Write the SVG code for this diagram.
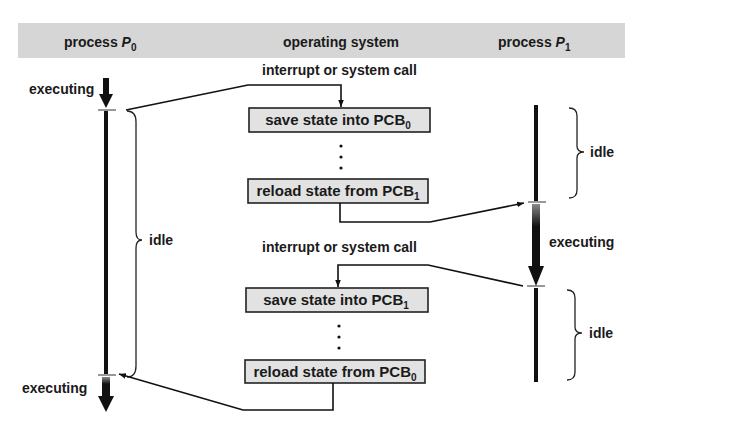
<svg xmlns="http://www.w3.org/2000/svg" width="742" height="431" viewBox="0 0 742 431">
<style>
text{font-family:"Liberation Sans",Arial,sans-serif;font-size:14px;font-weight:bold;fill:#1a1a1a}
.bt{font-size:15px;text-anchor:middle}
.box{fill:#e2e2e2;stroke:#222;stroke-width:1.6}
.con{fill:none;stroke:#111;stroke-width:1.6}
.tick{stroke:#333;stroke-width:1}
.brace{fill:none;stroke:#222;stroke-width:1.3}
.sub{font-size:10px}
</style>
<defs>
<marker id="ah" viewBox="0 0 10 10" refX="10" refY="5" markerWidth="7" markerHeight="7" orient="auto" markerUnits="userSpaceOnUse">
<path d="M0,1 L10,5 L0,9 Z" fill="#111"/>
</marker>
<linearGradient id="gv" x1="0" y1="0" x2="0" y2="1">
<stop offset="0" stop-color="#888"/>
<stop offset="0.35" stop-color="#111"/>
<stop offset="1" stop-color="#111"/>
</linearGradient>
</defs>
<rect x="0" y="0" width="742" height="431" fill="#fff"/>
<g id="header">
<rect x="18" y="23" width="607" height="35" fill="#d6d6d6"/>
<text x="64" y="47">process <tspan font-style="italic">P</tspan><tspan class="sub" dy="4">0</tspan></text>
<text x="283" y="47">operating system</text>
<text x="498" y="47">process <tspan font-style="italic">P</tspan><tspan class="sub" dy="4">1</tspan></text>
</g>
<g id="p0">
<rect x="103" y="78" width="6" height="18" fill="#111"/>
<polygon points="99,94 113,94 106,108" fill="#111"/>
<line class="tick" x1="98" y1="110" x2="116" y2="110"/>
<rect x="104" y="111" width="4" height="263" fill="#111"/>
<line class="tick" x1="98" y1="375" x2="116" y2="375"/>
<rect x="102" y="377" width="8" height="20" fill="url(#gv)"/>
<polygon points="98,396 114,396 106,412" fill="#111"/>
<text x="29" y="94">executing</text>
<text x="22" y="393">executing</text>
<path class="brace" d="M127,111 Q136,111 136,122 L136,232 Q136,240 142,240 Q136,240 136,248 L136,366 Q136,377 127,377"/>
<text x="149" y="245">idle</text>
</g>
<g id="p1">
<rect x="534" y="105" width="4" height="96" fill="#111"/>
<line class="tick" x1="528" y1="202" x2="546" y2="202"/>
<rect x="532" y="204" width="8" height="64" fill="url(#gv)"/>
<polygon points="528,266 544,266 536,286" fill="#111"/>
<line class="tick" x1="527" y1="286" x2="545" y2="286"/>
<rect x="534" y="288" width="4" height="94" fill="#111"/>
<path class="brace" d="M569,108 Q577,108 577,116 L577,146 Q577,152 584,152 Q577,152 577,158 L577,190 Q577,198 569,198"/>
<text x="590" y="157">idle</text>
<text x="549" y="247">executing</text>
<path class="brace" d="M567,290 Q575,290 575,298 L575,327 Q575,333 582,333 Q575,333 575,339 L575,372 Q575,380 567,380"/>
<text x="589" y="338">idle</text>
</g>
<g id="os">
<text x="262" y="75">interrupt or system call</text>
<g id="box1"><rect class="box" x="249" y="108" width="181" height="24"/>
<text class="bt" x="338" y="125">save state into PCB<tspan class="sub" dy="4">0</tspan></text></g>
<g fill="#111"><circle cx="341" cy="146" r="1.6"/><circle cx="341" cy="157" r="1.6"/><circle cx="341" cy="168" r="1.6"/></g>
<g id="box2"><rect class="box" x="248" y="179" width="180" height="24"/>
<text class="bt" x="338" y="196">reload state from PCB<tspan class="sub" dy="4">1</tspan></text></g>
<text x="262" y="252">interrupt or system call</text>
<g id="box3"><rect class="box" x="246" y="288" width="182" height="24"/>
<text class="bt" x="336" y="305">save state into PCB<tspan class="sub" dy="4">1</tspan></text></g>
<g fill="#111"><circle cx="339" cy="326" r="1.6"/><circle cx="339" cy="337" r="1.6"/><circle cx="339" cy="348" r="1.6"/></g>
<g id="box4"><rect class="box" x="245" y="360" width="180" height="23"/>
<text class="bt" x="335" y="377">reload state from PCB<tspan class="sub" dy="4">0</tspan></text></g>
</g>
<g id="connectors">
<polyline class="con" points="126,110 248,85 341,85 341,107" marker-end="url(#ah)"/>
<polyline class="con" points="340,203 340,222 430,222 524,203" marker-end="url(#ah)"/>
<polyline class="con" points="523,286 428,265 338,265 338,287" marker-end="url(#ah)"/>
<polyline class="con" points="333,383 333,410 243,410 119,374" marker-end="url(#ah)"/>
</g>
</svg>
